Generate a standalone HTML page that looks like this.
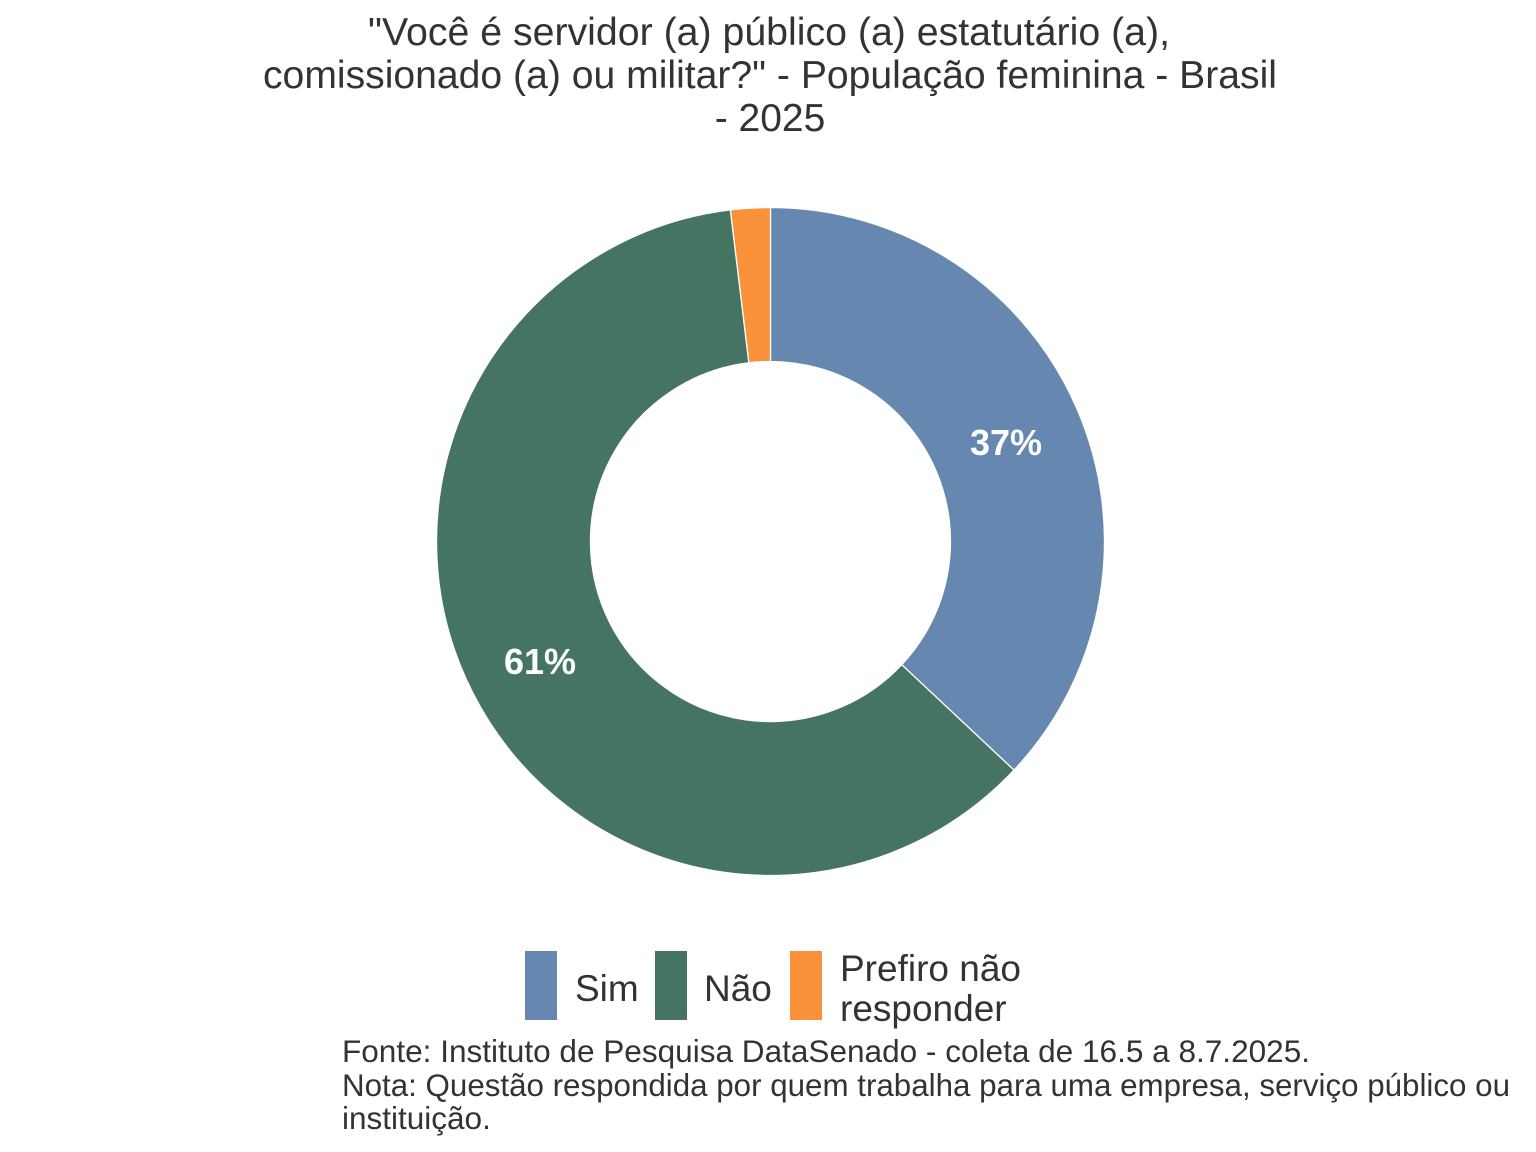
<!DOCTYPE html>
<html>
<head>
<meta charset="utf-8">
<style>
  html, body { margin: 0; padding: 0; background: #ffffff; }
  svg { display: block; }
  text { font-family: "Liberation Sans", Arial, sans-serif; }
</style>
</head>
<body>
<svg width="1536" height="1152" viewBox="0 0 1536 1152" xmlns="http://www.w3.org/2000/svg">
  <rect x="0" y="0" width="1536" height="1152" fill="#ffffff"/>

  <!-- Title -->
  <g fill="#333333" font-size="39" text-anchor="middle">
    <text x="769" y="45" textLength="802" lengthAdjust="spacingAndGlyphs">"Você é servidor (a) público (a) estatutário (a),</text>
    <text x="770" y="88" textLength="1014" lengthAdjust="spacingAndGlyphs">comissionado (a) ou militar?" - População feminina - Brasil</text>
    <text x="770" y="131">- 2025</text>
  </g>

  <!-- Donut -->
  <g stroke="#ffffff" stroke-width="1.3" stroke-linejoin="miter">
    <!-- Sim 37% -->
    <path d="M770.5,207.5 A334,334 0 0 1 1014.0,770.1 L901.7,664.7 A180,180 0 0 0 770.5,361.5 Z" fill="#6687b0"/>
    <!-- Não 61% -->
    <path d="M1014.0,770.1 A334,334 0 1 1 730.4,209.9 L748.9,362.8 A180,180 0 1 0 901.7,664.7 Z" fill="#457562"/>
    <!-- Prefiro não responder 2% -->
    <path d="M730.4,209.9 A334,334 0 0 1 770.5,207.5 L770.5,361.5 A180,180 0 0 0 748.9,362.8 Z" fill="#f9923b"/>
  </g>

  <!-- Slice labels -->
  <g fill="#ffffff" font-size="36" font-weight="bold" text-anchor="middle">
    <text x="1006" y="455">37%</text>
    <text x="540" y="674">61%</text>
  </g>

  <!-- Legend -->
  <rect x="525" y="951" width="32" height="69" fill="#6687b0"/>
  <rect x="655" y="951" width="32" height="69" fill="#457562"/>
  <rect x="790" y="951" width="32" height="69" fill="#f9923b"/>
  <g fill="#333333" font-size="37">
    <text x="575" y="1001">Sim</text>
    <text x="704" y="1001">Não</text>
    <text x="840" y="981">Prefiro não</text>
    <text x="840" y="1021">responder</text>
  </g>

  <!-- Caption -->
  <g fill="#333333" font-size="31.5">
    <text x="342" y="1062" textLength="968" lengthAdjust="spacingAndGlyphs">Fonte: Instituto de Pesquisa DataSenado - coleta de 16.5 a 8.7.2025.</text>
    <text x="342" y="1096" textLength="1168" lengthAdjust="spacingAndGlyphs">Nota: Questão respondida por quem trabalha para uma empresa, serviço público ou</text>
    <text x="342" y="1129">instituição.</text>
  </g>
</svg>
</body>
</html>
